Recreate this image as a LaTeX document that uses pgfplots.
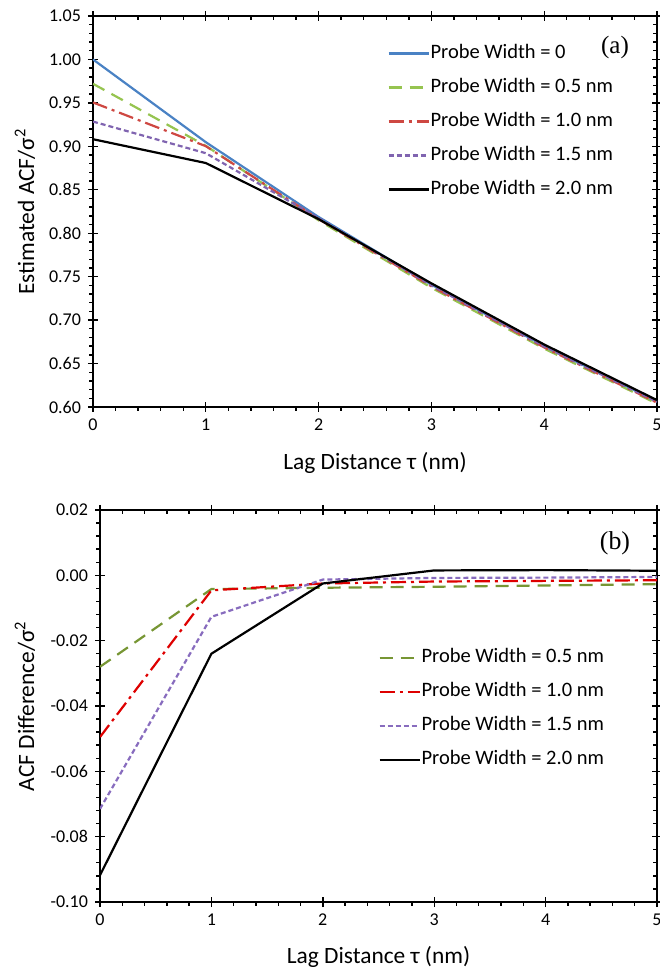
\documentclass[border=0pt]{standalone}
\usepackage{pgfplots}
\pgfplotsset{compat=1.18}
\usepackage{fontspec}
\setmainfont{Carlito}
\newfontfamily\seriffont{Liberation Serif}
\definecolor{aBlue}{RGB}{74,130,196}
\definecolor{aGreen}{RGB}{150,196,80}
\definecolor{aRed}{RGB}{206,72,66}
\definecolor{aPurple}{RGB}{128,100,176}
\definecolor{bGreen}{RGB}{119,150,52}
\definecolor{bRed}{RGB}{222,0,0}
\definecolor{bPurple}{RGB}{136,108,190}
\pgfplotsset{
  myaxis/.style={
    scale only axis,
    no markers,
    xmin=0, xmax=5,
    xtick={0,1,2,3,4,5},
    xticklabels={0,1,2,3,4,5},
    minor x tick num=4,
    minor y tick num=4,
    tick align=center,
    major tick length=5pt,
    minor tick length=1.8pt,
    minor x tick style={yshift=-0.9pt},
    minor y tick style={xshift=-0.9pt},
    every tick/.append style={black, line width=0.7pt},
    axis line style={line width=0.8pt},
    tick label style={font=\fontsize{9}{10}\selectfont},
    label style={font=\fontsize{11.7}{13}\selectfont},
    legend image code/.code={\draw[##1] (0pt,0pt) -- (20pt,0pt);},
    legend cell align=left,
    legend style={draw=none, fill=none, at={(0,1)}, anchor=north west,
      inner sep=0pt, row sep=7pt,
      nodes={inner sep=0.5pt, text height=7pt, text depth=2pt},
      font=\fontsize{10.25}{12}\selectfont},
  },
  pw0/.style={aBlue, line width=1.1pt},
  pw05a/.style={aGreen, line width=1.1pt, dash pattern=on 6.5pt off 4pt},
  pw10a/.style={aRed, line width=1.1pt, dash pattern=on 7.5pt off 2.5pt on 1.5pt off 2.5pt},
  pw15a/.style={aPurple, line width=1.1pt, dash pattern=on 2.5pt off 1.5pt},
  pw20/.style={black, line width=1.1pt},
  pw05b/.style={bGreen, line width=1.1pt, dash pattern=on 6.5pt off 4pt},
  pw10b/.style={bRed, line width=1.1pt, dash pattern=on 7.5pt off 2.5pt on 1.5pt off 2.5pt},
  pw15b/.style={bPurple, line width=1.1pt, dash pattern=on 2.5pt off 1.5pt},
}
\begin{document}
\begin{tikzpicture}
\path[use as bounding box] (0,0) rectangle (329.5pt,484.5pt);
% Panel (a)
\begin{axis}[myaxis,
  at={(46.5pt,281pt)}, anchor=south west,
  width=282pt, height=195.5pt,
  ymin=0.60, ymax=1.05,
  ytick={0.60,0.65,0.70,0.75,0.80,0.85,0.90,0.95,1.00,1.05},
  yticklabels={0.60,0.65,0.70,0.75,0.80,0.85,0.90,0.95,1.00,1.05},
  xlabel={Lag Distance τ (nm)},
  ylabel={Estimated ACF/σ\textsuperscript{2}},
  xlabel style={at={(axis description cs:0.5,-0.1432)}, anchor=center},
  ylabel style={at={(axis description cs:-0.1206,0.5)}, anchor=center, rotate=0},
  legend style={xshift=147pt, yshift=-13.5pt},
]
\addplot[pw0] coordinates {(0,1.000)(1,0.9048)(2,0.8187)(3,0.7408)(4,0.6703)(5,0.6065)};
\addplot[pw05a] coordinates {(0,0.9720)(1,0.9006)(2,0.8149)(3,0.7373)(4,0.6672)(5,0.6038)};
\addplot[pw10a] coordinates {(0,0.9505)(1,0.9002)(2,0.8162)(3,0.7389)(4,0.6686)(5,0.6050)};
\addplot[pw15a] coordinates {(0,0.9285)(1,0.8921)(2,0.8174)(3,0.7400)(4,0.6696)(5,0.6060)};
\addplot[pw20] coordinates {(0,0.9082)(1,0.8808)(2,0.8162)(3,0.7423)(4,0.6719)(5,0.6079)};
\legend{Probe Width = 0,Probe Width = 0.5 nm,Probe Width = 1.0 nm,Probe Width = 1.5 nm,Probe Width = 2.0 nm}
\node[font=\seriffont\fontsize{12.5}{14}\selectfont, xshift=261pt, yshift=-15.5pt] at (axis description cs:0,1) {(a)};
\end{axis}
% Panel (b)
\begin{axis}[myaxis,
  at={(50pt,33.5pt)}, anchor=south west,
  width=278.5pt, height=196pt,
  ymin=-0.10, ymax=0.02,
  ytick={-0.10,-0.08,-0.06,-0.04,-0.02,0.00,0.02},
  yticklabels={-0.10,-0.08,-0.06,-0.04,-0.02,0.00,0.02},
  xlabel={Lag Distance τ (nm)},
  ylabel={ACF Difference/σ\textsuperscript{2}},
  xlabel style={at={(axis description cs:0.5,-0.140)}, anchor=center},
  ylabel style={at={(axis description cs:-0.1346,0.5)}, anchor=center, rotate=0},
  legend style={xshift=139pt, yshift=-68.7pt},
]
\addplot[pw05b] coordinates {(0,-0.0280)(1,-0.0042)(2,-0.0038)(3,-0.0035)(4,-0.0031)(5,-0.0027)};
\addplot[pw10b] coordinates {(0,-0.0495)(1,-0.0046)(2,-0.0025)(3,-0.0019)(4,-0.0017)(5,-0.0015)};
\addplot[pw15b] coordinates {(0,-0.0715)(1,-0.0127)(2,-0.0013)(3,-0.0008)(4,-0.0007)(5,-0.0005)};
\addplot[pw20] coordinates {(0,-0.0918)(1,-0.0240)(2,-0.0025)(3,0.0015)(4,0.0016)(5,0.0014)};
\legend{Probe Width = 0.5 nm,Probe Width = 1.0 nm,Probe Width = 1.5 nm,Probe Width = 2.0 nm}
\node[font=\seriffont\fontsize{12.9}{14}\selectfont, xshift=257.5pt, yshift=-16.5pt] at (axis description cs:0,1) {(b)};
\end{axis}
\end{tikzpicture}
\end{document}
